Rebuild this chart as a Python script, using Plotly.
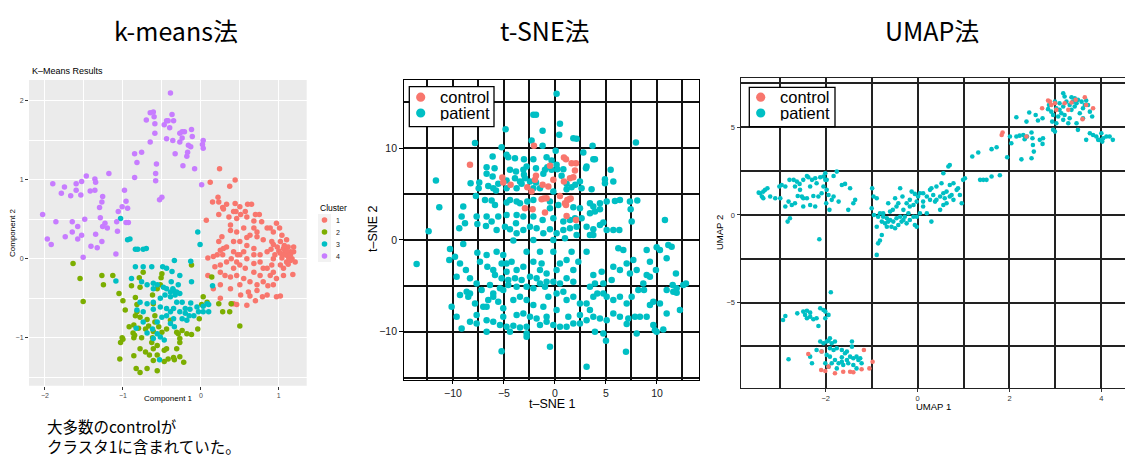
import plotly.graph_objects as go

W, H = 1125, 457

# ------------------------------------------------------------------ data
CLUSTER_LABELS = ["1", "2", "3", "4"]
GROUP_LABELS = ["control", "patient"]
PANEL_TITLES = ["k-means法", "t-SNE法", "UMAP法"]
NOTE_LINES = ["大多数のcontrolが", "クラスタ1に含まれていた。"]

KM_XTICKS = [-2, -1, 0, 1]
KM_YTICKS = [-1, 0, 1, 2]
TSNE_XTICKS = [-10, -5, 0, 5, 10]
TSNE_YTICKS = [-10, 0, 10]
UMAP_XTICKS = [-2, 0, 2, 4]
UMAP_YTICKS = [-5, 0, 5]

KM_C1 = [(0.24,1.14),(0.12,0.97),(0.44,1.00),(0.37,0.92),(0.22,0.78),(0.23,0.72),(0.15,0.72),(0.33,0.69),(0.44,0.70),(0.28,0.65),
         (0.29,0.63),(0.45,0.60),(0.60,0.69),(0.65,0.69),(0.07,0.49),(0.23,0.56),(0.36,0.53),(0.46,0.51),(0.51,0.56),(0.59,0.53),
         (0.70,0.56),(0.75,0.56),(0.68,0.48),(0.78,0.47),(0.85,0.39),(0.93,0.34),(1.04,0.30),(0.27,0.28),(0.38,0.36),(0.46,0.34),
         (0.55,0.39),(0.63,0.30),(0.72,0.28),(0.80,0.24),(0.91,0.22),(1.02,0.22),(1.10,0.24),(1.19,0.15),(1.15,0.09),(1.10,0.05),
         (1.02,0.07),(0.93,0.00),(0.85,0.09),(0.76,0.05),(0.68,0.13),(0.59,0.17),(0.50,0.22),(0.42,0.22),(0.33,0.15),(0.25,0.11),
         (0.21,0.05),(0.25,-0.08),(0.33,-0.04),(0.42,-0.12),(0.50,-0.08),(0.59,0.00),(0.68,-0.06),(0.76,-0.04),(0.85,-0.12),(0.93,-0.17),
         (1.02,-0.08),(1.10,-0.04),(1.17,0.00),(1.21,-0.04),(1.06,-0.21),(0.97,-0.25),(0.89,-0.21),(0.80,-0.29),(0.72,-0.33),(0.63,-0.29),
         (0.55,-0.25),(0.46,-0.21),(0.38,-0.23),(0.25,-0.33),(0.16,-0.38),(0.25,-0.50),(0.38,-0.38),(0.50,-0.33),(0.61,-0.42),(0.72,-0.40),
         (0.85,-0.46),(0.70,-0.53),(0.59,-0.59),(0.46,-0.58),(0.42,-0.57),(0.39,-0.57),(0.09,0.01),(0.09,-0.21),(0.18,-0.10),(0.25,-0.17),
         (0.93,-0.33),(1.06,-0.12),(1.13,0.00),(1.19,0.09),(1.02,-0.47),(0.97,-0.48),(0.79,-0.48),(1.18,-0.20),(1.12,0.03),(1.08,0.09),
         (1.06,0.13),(1.09,0.05),(1.04,0.01),(1.12,0.15),(1.15,0.05),(1.01,0.39),(0.97,0.45),(0.89,0.39),(0.68,0.39),(0.72,0.34),
         (0.38,0.43),(0.42,0.60),(0.50,0.66),(0.57,0.60),(0.68,0.05),(0.80,-0.12),(0.91,-0.08),(0.76,-0.21),(0.55,0.09),(0.47,0.05),
         (0.39,0.00),(0.31,-0.21),(0.51,-0.46),(0.63,-0.47),(0.86,-0.34),(0.68,-0.17),(0.23,0.22),(0.29,0.13),(0.28,0.05),(0.16,0.03),
         (0.46,-0.04),(0.57,-0.12),(0.59,0.27),(0.42,0.09),(0.50,0.05),(1.05,0.05),(1.10,0.10),(1.00,0.10),(0.95,0.05),(1.15,-0.02),
         (0.98,0.15),(1.07,0.17),(0.90,0.12),(0.93,0.18),(1.12,-0.07)]

KM_C2 = [(-1.64,-0.06),(-1.55,-0.25),(-1.51,-0.54),(-1.27,-0.21),(-1.13,-0.21),(-1.25,-0.33),(-1.05,-0.44),(-1.00,-0.53),(-0.97,-0.65),
         (-0.89,-0.34),(-0.78,-0.36),(-0.79,-0.24),(-0.74,-0.17),(-0.84,-0.49),(-0.82,-0.58),(-0.82,-0.67),(-0.78,-0.74),(-0.84,-0.72),
         (-0.92,-0.86),(-0.86,-0.84),(-0.80,-0.88),(-0.87,-0.94),(-0.85,-0.97),(-0.86,-1.00),(-1.01,-1.00),(-1.00,-1.02),(-1.03,-1.06),
         (-1.04,-1.27),(-0.86,-1.23),(-0.78,-1.14),(-0.76,-1.00),(-0.71,-0.89),(-0.69,-0.77),(-0.67,-0.85),(-0.61,-0.92),(-0.62,-1.00),
         (-0.63,-1.06),(-0.61,-1.14),(-0.56,-1.22),(-0.61,-1.29),(-0.56,-1.42),(-0.69,-1.39),(-0.78,-1.44),(-0.83,-1.39),(-0.71,-1.18),
         (-0.66,-1.22),(-0.47,-1.16),(-0.44,-1.14),(-0.47,-1.30),(-0.42,-1.27),(-0.35,-1.25),(-0.34,-1.28),(-0.27,-1.24),(-0.22,-1.31),
         (-0.31,-1.14),(-0.27,-1.06),(-0.27,-1.01),(-0.29,-0.95),(-0.24,-0.91),(-0.31,-0.93),(-0.39,-0.78),(-0.44,-0.89),(-0.50,-0.93),
         (-0.54,-0.86),(-0.59,-0.80),(-0.59,-0.72),(-0.61,-0.57),(-0.62,-0.46),(-0.56,-0.38),(-0.52,-0.33),(-0.51,-0.24),(-0.50,-0.19),
         (-0.12,-0.08),(-0.12,-0.96),(-0.18,-0.95),(-0.04,-0.89),(-0.02,-0.76),(0.01,-0.58),(0.03,-0.48),(0.08,-0.55),(0.14,-0.23),
         (0.23,-0.57),(0.28,-0.67),(0.39,-0.57),(0.37,-0.67),(0.50,-0.85),(-0.56,-1.10)]

KM_C3 = [(-1.03,0.51),(-0.94,0.24),(-0.91,0.25),(-0.84,0.12),(-0.81,0.12),(-0.74,0.12),(-0.70,0.13),(-0.34,-0.02),(-0.04,0.34),
         (-0.01,0.18),(-0.13,-0.03),(-0.84,-0.10),(-0.74,-0.10),(-0.63,-0.10),(-0.49,-0.10),(-0.44,-0.12),(-0.37,-0.16),(-0.27,-0.21),
         (-1.09,-0.28),(-0.89,-0.25),(-0.76,-0.29),(-0.69,-0.33),(-0.61,-0.31),(-0.56,-0.33),(-0.48,-0.36),(-0.44,-0.38),(-0.39,-0.42),
         (-0.35,-0.40),(-0.31,-0.42),(-0.27,-0.44),(-0.33,-0.46),(-0.39,-0.48),(-0.46,-0.46),(-0.52,-0.50),(-0.61,-0.55),(-0.69,-0.57),
         (-0.78,-0.55),(-0.82,-0.65),(-0.74,-0.67),(-0.61,-0.64),(-0.52,-0.61),(-0.44,-0.63),(-0.39,-0.67),(-0.35,-0.63),(-0.27,-0.67),
         (-0.20,-0.69),(-0.15,-0.72),(-0.09,-0.72),(-0.03,-0.67),(0.03,-0.67),(0.10,-0.67),(0.03,-0.60),(0.10,-0.58),(0.15,-0.34),
         (0.08,-0.57),(-0.13,-0.56),(-0.20,-0.63),(-0.14,-0.64),(-0.05,-0.61),(-0.24,-0.76),(-0.18,-0.78),(-0.35,-0.76),(-0.44,-0.72),
         (-0.50,-0.74),(-0.56,-0.80),(-0.62,-0.89),(-0.56,-0.95),(-0.69,-0.94),(-0.61,-1.01),(-0.52,-0.99),(-0.47,-1.03),(-0.39,-0.82),
         (-0.34,-0.86),(-0.74,-0.80),(-0.83,-0.88),(-0.53,-1.28),(-0.12,-0.29),(-0.38,-0.29),(-0.31,-0.55),(-0.24,-0.55),(-0.61,-0.38),
         (-0.29,-0.33),(-0.36,-0.38)]

KM_C4 = [(-0.39,2.10),(-0.61,1.86),(-0.65,1.85),(-0.60,1.80),(-0.37,1.83),(-0.70,1.76),(-0.44,1.75),(-0.47,1.70),(-0.42,1.75),
         (-0.35,1.75),(-0.59,1.71),(-0.27,1.59),(-0.24,1.61),(-0.21,1.61),(-0.12,1.64),(-0.40,1.66),(-0.59,1.59),(-0.44,1.52),
         (-0.36,1.50),(-0.24,1.53),(-0.27,1.48),(-0.11,1.55),(0.03,1.50),(0.02,1.45),(-0.65,1.48),(0.03,1.40),(-0.16,1.44),
         (-0.13,1.42),(-0.17,1.35),(-0.18,1.30),(-0.33,1.33),(-0.76,1.35),(-0.85,1.33),(-0.82,1.22),(-0.57,1.20),(-0.23,1.18),
         (-0.08,1.14),(-0.58,1.08),(-0.58,0.99),(-0.85,1.03),(-1.18,1.08),(-1.47,1.05),(-1.36,1.01),(-1.35,0.97),(-1.53,0.98),
         (-1.60,0.95),(-1.90,0.95),(-1.75,0.91),(-1.79,0.83),(-1.67,0.80),(-1.60,0.87),(-1.54,0.81),(-1.42,0.86),(-1.36,0.87),
         (0.01,0.94),(-0.50,0.78),(-0.53,0.75),(-0.98,0.87),(-1.26,0.79),(-1.27,0.72),(-0.96,0.73),(-0.94,0.64),(-1.30,0.65),
         (-1.01,0.66),(-1.06,0.60),(-2.03,0.56),(-1.86,0.47),(-1.65,0.47),(-1.49,0.50),(-1.29,0.52),(-1.23,0.45),(-1.20,0.39),
         (-1.26,0.41),(-0.96,0.46),(-0.93,0.46),(-1.08,0.47),(-1.07,0.35),(-1.35,0.31),(-1.58,0.41),(-1.65,0.34),(-1.74,0.28),
         (-1.97,0.25),(-1.92,0.18),(-1.58,0.25),(-1.53,0.30),(-1.41,0.16),(-1.33,0.14),(-1.27,0.22),(-1.51,0.02),(-1.09,0.06)]

TSNE_CONTROL = [(-8.33,8.18),(-2.06,10.25),(-5.16,6.80),(-5.07,6.25),(-4.35,6.00),(-2.71,5.75),(-2.29,5.27),(-1.86,6.98),
                (-1.96,6.55),(-0.49,8.07),(-0.16,6.55),(-1.21,6.00),(-0.65,5.82),(0.88,8.98),(1.08,8.80),(1.63,8.36),(2.06,8.36),
                (1.96,7.56),(1.80,6.84),(1.47,6.73),(0.88,6.36),(0.49,4.80),(-1.31,4.44),(-1.08,4.51),(-0.82,4.55),(1.21,4.36),
                (1.41,4.44),(1.54,4.51),(0.98,4.00),(1.08,3.82),(-2.94,3.45),(-2.19,3.35),(-0.98,2.98),(1.14,2.62),(2.06,2.18)]

TSNE_PATIENT = [
    (0.16,15.93),(-2.12,13.64),(-1.86,13.64),(0.49,12.65),(-1.21,11.89),(0.42,11.45),(7.94,10.62),(-7.84,10.55),(-11.67,6.47),
    (-4.84,12.07),(1.80,11.09),(2.12,11.02),(-2.29,10.84),(-5.23,10.11),(-1.21,10.25),(0.07,9.71),(2.78,9.53),(3.69,10.25),
    (-6.11,9.09),(-4.74,9.27),(-4.58,9.02),(-3.92,8.91),(-3.04,8.80),(-2.12,8.80),(-0.82,9.02),(-0.33,8.65),(-0.75,7.93),
    (0.16,8.18),(-1.86,7.82),(-0.98,7.64),(0.23,7.71),(0.82,7.71),(3.10,8.00),(3.04,7.82),(3.76,8.80),(3.92,8.80),(5.46,7.64),
    (5.72,6.36),(4.90,6.62),(4.90,6.18),(2.45,6.36),(1.99,6.00),(1.14,6.11),(2.61,5.64),(3.59,5.53),(-0.49,8.00),(-0.33,7.64),
    (-2.78,8.00),(-3.10,7.64),(-3.04,7.09),(-3.82,7.45),(-4.41,7.64),(-3.92,6.73),(-3.43,6.36),(-3.27,6.11),(-3.76,5.64),
    (-4.74,6.47),(-5.56,6.11),(-6.11,6.91),(-5.92,7.82),(-6.70,7.93),(-6.70,7.20),(-7.42,6.25),(-8.27,6.18),(-7.48,5.64),
    (-6.54,5.89),(-6.05,5.64),(-5.78,5.38),(-4.74,5.64),(-2.12,5.64),(-1.47,5.64),(-0.16,5.27),(1.14,5.53),(1.63,5.75),
    (0.65,6.98),(-1.14,7.20),(-2.94,6.73),(-2.45,6.36),(-1.86,6.25),
    (-7.75,4.80),(-6.86,4.36),(-6.21,4.29),(-5.88,3.82),(-4.74,4.07),(-4.41,4.36),(-3.76,4.18),(-3.43,4.00),(-2.71,4.18),
    (-2.12,4.36),(-0.49,4.18),(-0.49,3.45),(0.33,3.82),(1.80,3.56),(2.45,3.45),(3.43,4.00),(3.76,3.64),(4.41,4.00),(5.07,4.18),
    (5.88,4.25),(6.37,4.36),(7.35,4.18),(8.07,4.29),(7.42,3.35),(4.41,3.35),(3.92,3.09),(3.43,2.91),(2.61,2.36),(1.96,2.36),
    (1.47,2.18),(0.82,2.00),(-0.16,2.36),(-1.21,2.18),(-2.12,2.55),(-3.10,2.55),(-3.76,2.73),(-3.82,1.82),(-4.74,2.73),
    (-5.56,2.55),(-6.70,2.55),(-7.68,2.55),(-8.99,3.64),(-9.15,2.55),(-9.38,1.27),(-8.82,1.82),(-7.61,1.75),(-6.76,1.53),
    (-6.21,2.00),(-5.72,1.09),(-4.90,1.45),(-4.41,1.16),(-3.76,0.73),(-3.10,1.09),(-2.45,1.45),(-1.80,1.27),(-1.14,0.73),
    (-0.49,1.16),(0.16,0.73),(0.82,1.09),(1.47,1.27),(2.12,0.55),(3.10,1.45),(3.76,1.16),(4.41,1.64),(4.74,1.89),(5.07,1.09),
    (5.72,1.09),(6.31,1.09),(7.52,2.00),(3.76,0.55),(-2.12,0.00),(-4.08,-0.07),(-0.16,0.00),(0.98,0.18),(2.12,1.45),(3.43,0.55),
    (-12.39,0.95),(-11.34,3.56),(10.78,2.18),
    (-10.29,-0.98),(-9.80,-1.82),(-8.99,-0.44),(-10.36,-2.18),(-9.31,-2.55),(-8.73,-3.27),(-8.33,-4.18),(-9.64,-4.00),
    (-7.61,-1.38),(-6.70,-1.64),(-7.35,-2.36),(-6.63,-2.91),(-6.05,-3.27),(-5.72,-1.27),(-5.07,-1.64),(-5.23,-2.55),(-4.74,-2.55),
    (-4.74,-3.45),(-4.25,-2.36),(-3.76,-3.27),(-3.10,-2.91),(-2.78,-1.27),(-2.12,-2.36),(-1.47,-1.27),(-1.31,-2.55),(-1.47,-3.27),
    (-0.82,-3.64),(0.16,-3.27),(0.49,-2.55),(-0.16,-1.27),(1.14,-2.18),(1.80,-3.27),(2.29,-2.36),(1.63,-1.27),(3.10,-1.27),
    (-0.16,-4.55),(0.49,-4.73),(1.14,-4.18),(1.80,-4.55),(-0.82,-4.55),(-1.80,-4.18),(-2.45,-4.00),(-3.27,-4.36),(-3.92,-4.18),
    (-4.58,-4.36),(-5.23,-4.18),(-5.88,-3.82),(-6.37,-4.91),(-5.39,-5.27),(-4.58,-4.91),(-3.76,-5.09),(-2.78,-5.09),(-2.12,-5.27),
    (-1.47,-4.73),(-0.98,-5.09),(-7.68,-4.73),(-8.33,-5.82),(-7.19,-5.45),(-6.05,-5.82),(-5.07,-5.45),(3.76,-3.82),(4.58,-3.45),
    (5.56,-4.36),(5.72,-2.91),(6.37,-3.27),(6.70,-1.09),(7.03,-2.55),(7.68,-2.18),(8.01,-3.27),(8.66,-4.73),(8.99,-3.82),
    (9.31,-4.00),(8.99,-1.09),(9.97,-0.80),(10.29,-1.09),(11.11,-0.55),(11.44,-0.73),(10.95,-2.00),(11.86,-3.64),(11.54,-4.91),
    (11.93,-5.27),(12.58,-4.91),(12.84,-4.73),(9.90,-3.27),(9.31,-2.36),(7.35,-3.64),(6.21,-0.91),(4.74,-4.73),(3.92,-4.73),
    (3.43,-5.09),(-13.56,-2.62),
    (-8.66,-5.64),(-9.31,-6.00),(-10.13,-7.27),(-9.64,-8.36),(-7.68,-8.18),(-7.03,-7.27),(-6.54,-6.55),(-6.05,-6.18),
    (-5.56,-6.73),(-5.07,-7.45),(-4.08,-6.55),(-3.43,-6.18),(-2.78,-6.55),(-2.12,-7.09),(-3.76,-8.18),(-3.10,-8.00),(-2.45,-8.36),
    (-1.80,-8.55),(-1.14,-7.27),(-0.65,-6.18),(0.16,-5.82),(0.82,-5.64),(1.14,-6.55),(1.80,-6.18),(2.45,-6.91),(3.10,-6.91),
    (3.43,-7.64),(3.76,-6.18),(4.15,-5.82),(4.74,-5.82),(5.07,-6.18),(5.72,-6.55),(6.37,-6.18),(7.03,-6.91),(7.52,-6.18),
    (8.17,-5.45),(8.73,-5.45),(9.31,-7.09),(9.64,-6.73),(10.29,-6.91),(10.95,-5.45),(11.60,-5.64),(11.93,-5.75),(12.25,-7.64),
    (10.95,-8.00),(9.64,-9.27),(9.80,-9.82),(8.99,-8.36),(8.33,-8.36),(7.84,-8.36),(7.19,-8.55),(6.37,-8.36),(5.72,-8.00),
    (5.07,-8.73),(4.41,-8.55),(3.76,-8.36),(3.10,-8.73),(2.45,-9.09),(1.80,-9.09),(1.14,-9.45),(0.49,-9.45),(-0.16,-9.27),
    (-0.82,-8.91),(-1.47,-9.27),(-2.78,-9.45),(-3.43,-9.53),(-4.08,-9.35),(-4.74,-9.45),(-5.39,-9.27),(-6.05,-8.91),(-6.70,-8.73),
    (-7.68,-9.09),(-8.33,-8.91),(-9.15,-9.64),(-6.70,-10.00),(-4.41,-10.00),(-2.78,-10.18),(-2.78,-10.55),(-0.49,-11.64),
    (-5.23,-12.11),(3.10,-13.82),(6.96,-12.18),(5.00,-10.98),(4.74,-10.18),(3.92,-10.00),(8.01,-10.18),(9.97,-10.00),(10.62,-9.75),
    (7.03,-9.16),(0.16,-7.64),(1.31,-8.36),(2.45,-8.18),(-0.82,-8.36),(-5.07,-8.36),(-6.70,-7.27),(-7.84,-6.91),(-8.50,-6.18)]

UMAP_CONTROL = [(2.84,6.52),(2.88,6.46),(2.91,6.27),(2.71,6.08),(2.99,6.37),(3.20,6.37),(3.35,6.41),(3.44,6.56),(3.64,6.71),
                (3.67,6.27),(3.82,6.08),(3.59,5.46),(3.28,5.99),(1.85,4.70),(1.83,4.56),(2.37,4.47),(3.02,5.99),
                (-2.38,-7.93),(-2.09,-7.79),(-2.10,-8.84),(-2.01,-8.90),(-1.94,-8.65),(-1.80,-9.03),(-1.62,-8.94),(-1.47,-8.94),
                (-1.40,-8.97),(-1.22,-8.80),(-1.17,-7.70),(-1.05,-8.75),(-0.98,-8.37)]

UMAP_PATIENT = [
    (-3.43,1.24),(-3.36,1.33),(-3.46,1.27),(-3.39,1.05),(-3.32,1.43),(-3.27,1.52),(-3.21,1.05),(-3.36,0.95),(-2.96,1.71),
    (-2.88,1.62),(-2.99,0.95),(-2.79,2.00),(-2.70,2.00),(-2.63,1.90),(-2.81,0.76),(-2.74,0.57),(-2.67,0.67),(-2.61,1.08),
    (-2.52,1.05),(-2.49,0.95),(-2.41,2.22),(-2.38,2.15),(-2.30,2.00),(-2.23,2.09),(-2.20,1.81),(-2.12,2.15),(-2.05,2.19),
    (-2.01,2.38),(-1.98,2.00),(-2.05,1.62),(-2.34,1.62),(-2.27,1.08),(-2.16,1.05),(-2.09,1.24),(-1.98,1.43),(-1.94,1.14),
    (-1.87,0.86),(-1.83,1.05),(-1.72,0.76),(-1.65,1.71),(-1.58,1.77),(-1.47,1.52),(-1.40,0.67),(-1.36,0.86),(-1.51,0.29),
    (-1.76,2.47),(-1.83,2.22),(-2.49,0.48),(-2.34,0.57),(-2.23,0.48),(-1.99,0.67),(-1.92,0.29),(-2.41,0.95),(-2.56,1.43),
    (-2.83,-0.38),(-2.78,-0.19),(-2.14,-1.39),(-2.57,1.77),(-2.49,2.00),(-2.88,0.48),(-3.10,0.95),(-3.01,1.62),(-2.67,1.62),
    (-2.01,2.00),
    (-0.99,1.52),(-0.96,1.05),(-0.89,0.95),(-1.00,0.38),(-0.95,0.00),(-0.86,-0.10),(-0.82,0.10),(-0.75,-0.10),(-0.67,-0.19),
    (-0.60,-0.29),(-0.53,-0.38),(-0.46,-0.19),(-0.38,-0.10),(-0.31,-0.29),(-0.24,-0.48),(-0.17,-0.29),(-0.09,-0.10),(-0.06,-0.57),
    (-0.02,-0.67),(-0.71,-0.48),(-0.78,-0.38),(-0.57,-0.67),(-0.49,-0.76),(-0.35,-0.38),(-0.28,-0.10),(-0.20,0.10),(-0.17,0.48),
    (-0.09,0.57),(-0.02,0.76),(0.01,1.05),(-0.06,1.20),(-0.13,1.33),(0.05,1.24),(0.12,1.24),(0.20,1.05),(0.27,1.43),(0.30,1.52),
    (0.34,1.14),(0.41,0.86),(0.49,1.05),(0.56,1.24),(0.63,1.33),(0.70,1.71),(0.52,1.81),(0.56,2.38),(0.67,2.76),(0.70,2.85),
    (0.49,0.29),(0.56,0.57),(0.63,0.67),(0.70,1.05),(0.78,0.86),(0.85,1.43),(0.92,1.14),(0.96,0.67),(0.99,2.00),(1.03,2.09),
    (0.41,1.62),(0.20,0.10),(0.30,-0.38),(0.12,0.48),(-0.38,1.52),(-0.33,1.05),(-0.42,0.67),(-0.46,0.48),(-0.54,0.29),
    (-0.60,0.19),(-0.64,0.67),(-0.49,0.95),(-0.31,0.29),(-0.24,0.67),(-0.17,0.86),(-0.82,-1.46),(-0.86,-1.62),(-0.89,-2.28),
    (-0.78,-1.14),(-0.67,-0.67),(-0.42,-0.57),(-0.89,-0.67),(-0.75,0.10),(-0.64,-0.38),(0.05,0.10),(-0.02,-0.10),(0.12,0.76),
    (0.27,0.86),(0.38,0.76),(0.78,1.81),(0.88,1.52),(0.74,1.14),(0.59,0.95),
    (1.19,3.33),(1.32,3.56),(1.61,3.75),(1.72,3.86),(1.79,2.26),(1.61,2.19),(1.50,2.00),(1.43,2.00),(1.36,2.00),(1.95,3.29),
    (2.01,4.47),(2.04,4.09),(2.15,5.57),(2.15,4.47),(2.22,4.52),(2.30,4.56),(2.33,4.32),(2.38,4.47),(2.48,4.70),(2.50,4.37),
    (2.51,3.99),(2.53,3.61),(2.48,3.23),(2.26,3.17),(2.43,5.84),(2.57,5.70),(2.62,5.38),(2.72,5.51),(2.66,4.28),(2.72,4.05),
    (2.73,4.37),(2.37,5.32),(2.93,5.32),(2.95,5.70),(3.02,5.23),(3.06,5.61),(3.09,5.99),(3.17,6.18),(3.17,6.94),(3.20,6.75),
    (3.24,6.46),(3.31,6.27),(3.35,5.99),(3.42,6.18),(3.46,6.37),(3.49,6.56),(3.53,5.80),(3.60,6.08),(3.64,6.27),(3.67,6.52),
    (3.75,5.89),(3.80,5.61),(3.60,5.51),(3.31,5.51),(3.28,5.23),(3.46,5.23),(2.95,4.85),(2.99,4.75),(3.49,4.85),(3.17,5.42),
    (3.09,6.37),(3.38,6.46),(3.75,4.66),(3.82,4.56),(3.89,4.47),(3.96,4.28),(4.00,4.66),(4.04,4.37),(4.11,4.47),(4.18,4.47),
    (4.25,4.28),(3.67,4.28),(3.93,4.28),(4.02,4.18),(2.86,6.27),(3.02,6.08),(2.99,6.46),(3.13,5.80),(3.20,5.70),(3.35,6.71),
    (3.42,6.65),(3.57,6.46),(3.71,6.27),(2.84,6.03),(2.91,5.89),
    (-1.89,-4.41),(-2.93,-5.99),(-2.88,-5.76),(-2.62,-5.61),(-2.49,-5.51),(-2.41,-5.46),(-2.45,-5.70),(-2.41,-5.89),(-2.34,-5.80),
    (-2.27,-5.95),(-2.20,-5.89),(-2.16,-6.33),(-2.34,-5.57),(-2.12,-5.32),(-2.05,-5.42),(-2.01,-5.51),(-1.94,-5.70),(-2.01,-5.89),
    (-2.12,-7.22),(-2.05,-7.32),(-1.98,-7.22),(-1.94,-7.17),(-1.91,-7.03),(-1.87,-7.32),(-1.80,-7.22),(-1.83,-7.70),(-1.76,-7.60),
    (-1.65,-7.70),(-1.58,-7.89),(-1.54,-7.79),(-1.43,-7.22),(-1.47,-8.08),(-1.40,-8.17),(-1.33,-8.08),(-1.29,-8.27),(-1.22,-8.46),
    (-1.40,-8.56),(-1.51,-8.46),(-1.62,-8.56),(-1.72,-8.46),(-1.80,-8.27),(-1.87,-8.46),(-1.94,-8.65),(-2.01,-8.46),(-1.91,-8.08),
    (-1.98,-7.98),(-2.09,-7.79),(-2.20,-7.70),(-2.34,-8.08),(-2.30,-8.46),(-2.81,-8.23),(-1.76,-8.75),(-1.65,-8.37),(-1.54,-8.27),
    (-1.33,-8.75),(-1.25,-8.17),(-1.43,-7.51),(-1.65,-8.12),(-1.91,-7.60)]

# ------------------------------------------------------------------ style
RED, GREEN, CYAN, PURPLE = "#F8766D", "#7CAE00", "#00BFC4", "#C77CFF"
CLUSTER_COLORS = [RED, GREEN, CYAN, PURPLE]
GROUP_COLORS = [RED, CYAN]
SANS = "Liberation Sans, Arial, sans-serif"
JP = "Noto Sans CJK JP, sans-serif"


def px(x):
    return x / W


def py(y):
    return 1 - y / H


def xs(pts):
    return [p[0] for p in pts]


def ys(pts):
    return [p[1] for p in pts]


fig = go.Figure()

# k-means panel
for pts, col, lab in zip([KM_C1, KM_C2, KM_C3, KM_C4], CLUSTER_COLORS, CLUSTER_LABELS):
    fig.add_trace(go.Scatter(x=xs(pts), y=ys(pts), mode="markers", name=lab, showlegend=False,
                             marker=dict(size=5.5, color=col, line=dict(width=0)), xaxis="x", yaxis="y"))

# t-SNE panel
for pts, col, lab in [(TSNE_PATIENT, CYAN, "patient"), (TSNE_CONTROL, RED, "control")]:
    fig.add_trace(go.Scatter(x=xs(pts), y=ys(pts), mode="markers", name=lab, showlegend=False,
                             marker=dict(size=6.5, color=col, line=dict(width=0)), xaxis="x2", yaxis="y2"))

# UMAP panel
for pts, col, lab in [(UMAP_PATIENT, CYAN, "patient"), (UMAP_CONTROL, RED, "control")]:
    fig.add_trace(go.Scatter(x=xs(pts), y=ys(pts), mode="markers", name=lab, showlegend=False,
                             marker=dict(size=4.6, color=col, line=dict(width=0)), xaxis="x3", yaxis="y3"))

GRID_DARK = "#111111"
GRID_UMAP = "#222222"

layout = dict(
    width=W, height=H, autosize=False,
    margin=dict(l=0, r=0, t=0, b=0),
    paper_bgcolor="white", plot_bgcolor="rgba(0,0,0,0)",
    font=dict(family=SANS, color="#000"),
    showlegend=False,
    # ---- k-means
    xaxis=dict(domain=[px(29), px(306.7)], anchor="y", range=[-2.205, 1.358], tickvals=KM_XTICKS,
               showgrid=True, gridcolor="white", gridwidth=1.1, zeroline=False, showline=False,
               minor=dict(dtick=0.5, tick0=0, showgrid=True, gridcolor="white", gridwidth=0.5),
               ticks="outside", ticklen=3, tickcolor="#333", tickwidth=0.8,
               tickfont=dict(size=7, color="#4D4D4D")),
    yaxis=dict(domain=[py(385.7), py(80)], anchor="x", range=[-1.608, 2.266], tickvals=KM_YTICKS,
               showgrid=True, gridcolor="white", gridwidth=1.1, zeroline=False, showline=False,
               minor=dict(dtick=0.5, tick0=0, showgrid=True, gridcolor="white", gridwidth=0.5),
               ticks="outside", ticklen=3, tickcolor="#333", tickwidth=0.8,
               tickfont=dict(size=7, color="#4D4D4D")),
    # ---- t-SNE
    xaxis2=dict(domain=[px(404.3), px(699.3)], anchor="y2", range=[-14.77, 14.15], tickvals=TSNE_XTICKS,
                showgrid=True, gridcolor=GRID_DARK, gridwidth=1.5, zeroline=False,
                minor=dict(dtick=2.5, tick0=0, showgrid=True, gridcolor=GRID_DARK, gridwidth=1.5),
                showline=True, mirror=True, linecolor="#000", linewidth=1.4,
                ticks="outside", ticklen=3, tickcolor="#000", tickwidth=1,
                tickfont=dict(size=10.5, color="#1a1a1a")),
    yaxis2=dict(domain=[py(380), py(80)], anchor="x2", range=[-15.25, 17.42], tickvals=TSNE_YTICKS,
                showgrid=True, gridcolor=GRID_DARK, gridwidth=1.5, zeroline=False,
                minor=dict(dtick=5, tick0=0, showgrid=True, gridcolor=GRID_DARK, gridwidth=1.5),
                showline=True, mirror=True, linecolor="#000", linewidth=1.4,
                ticks="outside", ticklen=4, tickcolor="#000", tickwidth=1,
                tickfont=dict(size=10.5, color="#1a1a1a")),
    # ---- UMAP
    xaxis3=dict(domain=[px(740.7), 1.0], anchor="y3", range=[-3.852, 4.515], tickvals=UMAP_XTICKS,
                showgrid=True, gridcolor=GRID_UMAP, gridwidth=1.5, zeroline=False,
                minor=dict(dtick=1, tick0=0, showgrid=True, gridcolor=GRID_UMAP, gridwidth=1.5),
                showline=True, mirror=True, linecolor="#222", linewidth=1.4,
                ticks="outside", ticklen=3, tickcolor="#333", tickwidth=0.8,
                tickfont=dict(size=7.5, color="#333")),
    yaxis3=dict(domain=[py(387.7), py(78.3)], anchor="x3", range=[-9.85, 7.79], tickvals=UMAP_YTICKS,
                showgrid=True, gridcolor=GRID_UMAP, gridwidth=1.5, zeroline=False,
                minor=dict(dtick=2.5, tick0=0, showgrid=True, gridcolor=GRID_UMAP, gridwidth=1.5),
                showline=True, mirror=False, linecolor="#222", linewidth=1.4,
                ticks="outside", ticklen=3, tickcolor="#333", tickwidth=0.8,
                tickfont=dict(size=7.5, color="#333")),
)
fig.update_layout(**layout)

shapes = []
# ggplot grey panel for k-means
shapes.append(dict(type="rect", xref="x domain", yref="y domain", x0=0, x1=1, y0=0, y1=1,
                   fillcolor="#EBEBEB", line=dict(width=0), layer="below"))

# k-means legend keys
shapes.append(dict(type="rect", xref="paper", yref="paper", x0=px(318), x1=px(331), y0=py(262), y1=py(214),
                   fillcolor="#F2F2F2", line=dict(width=0)))
key_rows = [220, 232, 244, 256]
for row, col in zip(key_rows, CLUSTER_COLORS):
    shapes.append(dict(type="circle", xref="paper", yref="paper", xsizemode="pixel", ysizemode="pixel",
                       xanchor=px(324.5), yanchor=py(row), x0=-2.8, x1=2.8, y0=-2.8, y1=2.8,
                       fillcolor=col, line=dict(width=0)))

LEG_ROWS = [97.2, 113.0]
# t-SNE and UMAP legend boxes
for (bx0, by0, bx1, by1), dotx in [((409.3, 86.7, 494, 126.7), 420.7), ((749.3, 87.3, 835, 126.7), 760.7)]:
    shapes.append(dict(type="rect", xref="paper", yref="paper", x0=px(bx0), x1=px(bx1), y0=py(by1), y1=py(by0),
                       fillcolor="white", line=dict(color="#000", width=1.3)))
    for rowy, col in zip(LEG_ROWS, GROUP_COLORS):
        shapes.append(dict(type="circle", xref="paper", yref="paper", xsizemode="pixel", ysizemode="pixel",
                           xanchor=px(dotx), yanchor=py(rowy), x0=-4.6, x1=4.6, y0=-4.6, y1=4.6,
                           fillcolor=col, line=dict(width=0)))
fig.update_layout(shapes=shapes)

ann = []


def text(x, y, s, size, family=SANS, color="#000", xanchor="center", angle=0, align="center", height=None):
    a = dict(x=px(x), y=py(y), xref="paper", yref="paper", text=s, showarrow=False,
             xanchor=xanchor, yanchor="middle", textangle=angle, align=align,
             font=dict(size=size, family=family, color=color))
    if height is not None:
        a["height"] = height
        a["valign"] = "middle"
    ann.append(a)


# big headings
for t, cx in zip(PANEL_TITLES, [176, 545, 932]):
    text(cx, 30, t, 25, family=JP)

# note below k-means (two lines, one block)
text(45, 436, "<br>".join(NOTE_LINES), 15.5, family=JP, xanchor="left", align="left")

# k-means labels
text(30, 70.5, "K–Means Results", 9, xanchor="left")
text(168, 398.5, "Component 1", 8)
text(13, 233, "Component 2", 8, angle=-90)
text(318, 208, "Cluster", 8.5, xanchor="left")
for row, lab in zip(key_rows, CLUSTER_LABELS):
    text(334, row, lab, 7, color="#222", xanchor="left")

# t-SNE labels
text(552, 404, "t–SNE 1", 12.5)
text(373, 229, "t–SNE 2", 12.5, angle=-90)
for rowy, lab in zip(LEG_ROWS, GROUP_LABELS):
    text(437.5, rowy, lab, 16.5, xanchor="left", height=15.6)

# UMAP labels
text(933, 406, "UMAP 1", 9.5)
text(720, 233, "UMAP 2", 9.5, angle=-90)
for rowy, lab in zip(LEG_ROWS, GROUP_LABELS):
    text(777.5, rowy, lab, 16.5, xanchor="left", height=15.6)

fig.update_layout(annotations=ann)

fig.write_html("out.html", config={"displayModeBar": False},
               post_script="document.body.style.margin='0';")
